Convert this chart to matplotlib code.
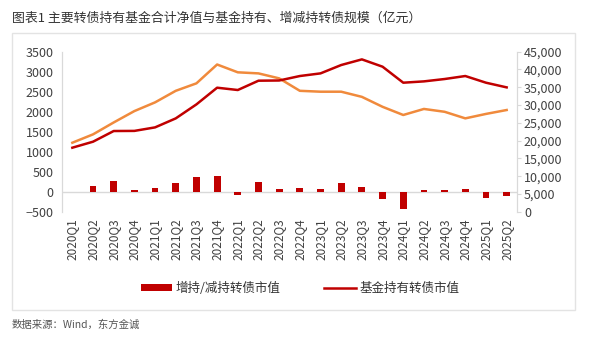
import numpy as np
import matplotlib
matplotlib.use("Agg")
import matplotlib.pyplot as plt
from matplotlib.patches import Rectangle, Patch
from matplotlib.lines import Line2D
from matplotlib.ticker import FuncFormatter, MultipleLocator

plt.rcParams['font.family'] = ['Noto Sans CJK SC', 'DejaVu Sans']

categories = ["2020Q1", "2020Q2", "2020Q3", "2020Q4", "2021Q1", "2021Q2", "2021Q3", "2021Q4",
              "2022Q1", "2022Q2", "2022Q3", "2022Q4", "2023Q1", "2023Q2", "2023Q3", "2023Q4",
              "2024Q1", "2024Q2", "2024Q3", "2024Q4", "2025Q1", "2025Q2"]
# 增持/减持转债市值 (left axis)
change_values = [np.nan, 142, 267, 33, 100, 217, 358, 400, -70, 242, 58, 100,
                 75, 217, 125, -192, -425, 50, 50, 75, -167, -100]
# 基金持有转债市值 (left axis)
holding_values = [1100, 1250, 1517, 1520, 1608, 1833, 2183, 2600, 2542, 2775, 2780, 2892,
                  2958, 3167, 3308, 3125, 2725, 2758, 2817, 2892, 2725, 2608]
# 主要转债持有基金合计净值 (right axis)
nav_values = [19400, 21750, 25100, 28300, 30750, 34000, 36100, 41400, 39200, 38900, 37500, 34000,
              33750, 33750, 32300, 29500, 27200, 28900, 28100, 26250, 27500, 28600]

title = "图表1 主要转债持有基金合计净值与基金持有、增减持转债规模（亿元）"
source = "数据来源：Wind，东方金诚"
bar_label = "增持/减持转债市值"
line_label = "基金持有转债市值"

RED = "#C00000"
BAR_RED = "#C00000"
ORANGE = "#F08A3C"
GRID = "#D9D9D9"
TXT = "#404040"

W, H = 600, 356
fig = plt.figure(figsize=(6.0, 3.56), dpi=100)

# outer box
fig.patches.append(Rectangle((12 / W, 1 - 310 / H), (575 - 12) / W, (310 - 33) / H,
                             transform=fig.transFigure, fill=False, edgecolor="#E3E3E3",
                             linewidth=1.0, zorder=0))

left, right = 62 / W, 517 / W
bottom, top = 1 - 211.7 / H, 1 - 51.7 / H
ax = fig.add_axes([left, bottom, right - left, top - bottom])
ax2 = ax.twinx()

x = np.arange(len(categories))
ax.bar(x, change_values, width=0.33, color=BAR_RED, zorder=2)
ax.axhline(0, color=GRID, linewidth=1.0, zorder=1)
ax.plot(x, holding_values, color=RED, linewidth=1.8, zorder=4)
ax2.plot(x, nav_values, color=ORANGE, linewidth=1.8, zorder=3)

ax.set_zorder(ax2.get_zorder() + 1)
ax.patch.set_visible(False)

ax.set_xlim(-0.5, len(categories) - 0.5)
ax.set_ylim(-500, 3500)
ax.yaxis.set_major_locator(MultipleLocator(500))
ax2.set_ylim(0, 45000)
ax2.yaxis.set_major_locator(MultipleLocator(5000))
ax2.yaxis.set_major_formatter(FuncFormatter(lambda v, p: f"{int(v):,}"))

ax.set_xticks(x)
ax.set_xticklabels(categories, rotation=90, fontsize=8.5, color=TXT)
ax.tick_params(axis='x', length=0, pad=5)
ax.tick_params(axis='y', length=0, pad=6, labelsize=9, labelcolor=TXT)
ax2.tick_params(axis='y', length=3, pad=2, labelsize=9, labelcolor=TXT, color=GRID)

for a in (ax, ax2):
    a.spines['top'].set_visible(False)
    a.spines['bottom'].set_visible(False)
    a.spines['left'].set_color(GRID)
    a.spines['right'].set_color(GRID)

fig.text(12 / W, 1 - 18 / H, title, fontsize=9.3, color="#333333", ha='left', va='center')
fig.text(12 / W, 1 - 325 / H, source, fontsize=7.5, color="#555555", ha='left', va='center')

handles = [Patch(facecolor=BAR_RED, edgecolor='none'),
           Line2D([0], [0], color=RED, linewidth=1.8)]
fig.legend(handles, [bar_label, line_label], loc='center', bbox_to_anchor=(300 / W, 1 - 288 / H),
           ncol=2, frameon=False, fontsize=9, handlelength=2.5, handleheight=0.5,
           columnspacing=3.5, handletextpad=0.3, labelcolor="#333333")

fig.savefig("out.png", dpi=100, facecolor="white")
